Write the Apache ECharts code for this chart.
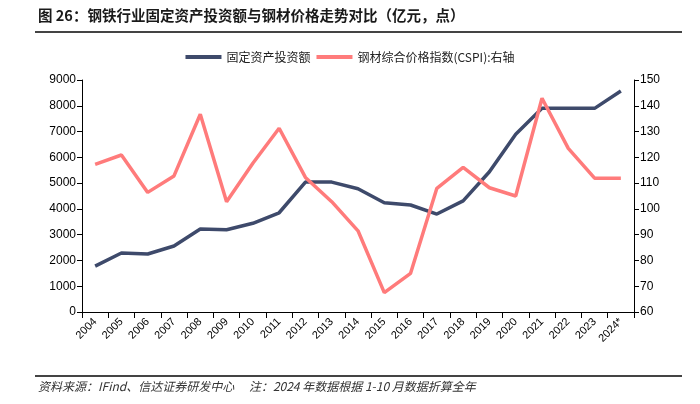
<!DOCTYPE html>
<html><head><meta charset="utf-8">
<script src="https://cdn.jsdelivr.net/npm/echarts@6/dist/echarts.min.js"></script>
<style>html,body{margin:0;padding:0;background:#fff}#c{width:700px;height:404px}</style>
</head><body><div id="c"></div>
<script>
const years = ['2004','2005','2006','2007','2008','2009','2010','2011','2012','2013','2014','2015','2016','2017','2018','2019','2020','2021','2022','2023','2024*'];
const investment = [1780,2290,2250,2560,3220,3190,3440,3850,5040,5040,4780,4240,4150,3800,4310,5440,6900,7900,7900,7900,8570];
const cspi = [117.3,120.9,106.4,112.8,136.7,102.8,117.7,131.3,112.2,102.8,91.5,67.5,75,108,116.1,108.2,105,142.9,123.5,111.9,111.9];
const seriesNames = ['固定资产投资额','钢材综合价格指数(CSPI):右轴'];
const titleText = '图 26：钢铁行业固定资产投资额与钢材价格走势对比（亿元，点）';
const sourceText = '资料来源：IFind、信达证券研发中心　 注：2024 年数据根据 1-10 月数据折算全年';

const chart = echarts.init(document.getElementById('c'));
const axisFont = {color:'#000', fontSize:12, fontFamily:'Liberation Sans, Arial, sans-serif'};
chart.setOption({
  animation:false,
  graphic:[
    {type:'text', left:38, top:8, style:{text:titleText, font:'bold 14.5px "Noto Sans CJK SC"', fill:'#1a1a1a'}},
    {type:'rect', shape:{x:35,y:31,width:647,height:2}, style:{fill:'#444'}},
    {type:'rect', shape:{x:35,y:375,width:647,height:2}, style:{fill:'#444'}},
    {type:'text', left:38, top:380, style:{text:sourceText, font:'italic 12px "Noto Sans CJK SC"', fill:'#333'}}
  ],
  legend:{
    top:46, left:'center', itemWidth:36, itemHeight:4, itemGap:6,
    icon:'rect',
    textStyle:{color:'#222', fontSize:12, fontFamily:'"Noto Sans CJK SC", sans-serif'},
    data:seriesNames
  },
  grid:{left:82, right:66, top:80, bottom:92},
  xAxis:{
    type:'category', data:years, boundaryGap:true,
    axisLine:{lineStyle:{color:'#000', width:1}},
    axisTick:{show:true, alignWithLabel:false, length:6, lineStyle:{color:'#000'}},
    axisLabel:Object.assign({rotate:45, interval:0, margin:8}, axisFont, {fontSize:11})
  },
  yAxis:[
    {type:'value', min:0, max:9000, interval:1000, position:'left',
     axisLine:{show:true, lineStyle:{color:'#000'}},
     axisTick:{show:true, length:5, lineStyle:{color:'#000'}},
     splitLine:{show:false},
     axisLabel:Object.assign({margin:6, formatter:v => String(v)}, axisFont)},
    {type:'value', min:60, max:150, interval:10, position:'right',
     axisLine:{show:true, lineStyle:{color:'#000'}},
     axisTick:{show:true, length:5, lineStyle:{color:'#000'}},
     splitLine:{show:false},
     axisLabel:Object.assign({margin:6, formatter:v => String(v)}, axisFont)}
  ],
  series:[
    {name:seriesNames[0], type:'line', data:investment, yAxisIndex:0, symbol:'none',
     lineStyle:{color:'#3e4a6b', width:3.5}, itemStyle:{color:'#3e4a6b'}},
    {name:seriesNames[1], type:'line', data:cspi, yAxisIndex:1, symbol:'none',
     lineStyle:{color:'#ff7b7b', width:3.5}, itemStyle:{color:'#ff7b7b'}}
  ]
});
</script></body></html>
